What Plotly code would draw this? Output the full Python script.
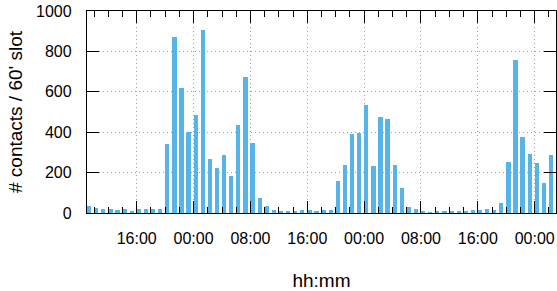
import pandas as pd
import plotly.graph_objects as go

# Hourly contact counts (60' slots), starting at 09:00 on day 1
first_slot = "2000-01-01 09:00"
counts = [
    35, 25, 20, 20, 15, 20, 10, 20, 20, 20, 20, 341,
    873, 619, 401, 485, 906, 267, 223, 287, 183, 436,
    673, 347, 74, 35, 15, 10, 10, 10, 15, 15, 10, 15, 15,
    158, 238, 391, 396, 535, 233, 475, 465, 238,
    124, 30, 20, 10, 3, 5, 5, 5, 5, 10, 15, 15, 20, 15,
    50, 252, 757, 376, 292, 248, 149, 287,
]
x_range = ["2000-01-01 09:00", "2000-01-04 03:00"]
y_ticks = [0, 200, 400, 600, 800, 1000]

HOUR_MS = 3600 * 1000
slots = pd.date_range(first_slot, periods=len(counts), freq="h")

fig = go.Figure(
    go.Bar(
        x=slots,
        y=counts,
        offset=0,
        width=0.6 * HOUR_MS,
        marker=dict(color="#56B4E9", line=dict(width=0)),
    )
)

font = dict(family="Liberation Sans, Arial, sans-serif", size=16, color="black")

fig.update_layout(
    width=557,
    height=291,
    margin=dict(l=87, r=1, t=11, b=78),
    paper_bgcolor="white",
    plot_bgcolor="white",
    showlegend=False,
    font=font,
    bargap=0,
)

grid_style = dict(showgrid=True, gridcolor="#a0a0a0", griddash="1px,3px", gridwidth=1)

fig.update_xaxes(
    type="date",
    range=x_range,
    tick0="2000-01-01 16:00",
    dtick=8 * HOUR_MS,
    tickformat="%H:%M",
    ticks="inside",
    ticklen=12,
    tickwidth=1,
    tickcolor="black",
    minor=dict(ticks="inside", ticklen=6, dtick=2 * HOUR_MS, tick0="2000-01-01 16:00",
               tickcolor="black", showgrid=False),
    showline=True,
    linecolor="black",
    linewidth=1.3,
    mirror="allticks",
    ticklabelstandoff=11,
    title=dict(text="hh:mm", standoff=29),
    automargin=False,
    zeroline=False,
    **grid_style,
)

fig.update_yaxes(
    range=[0, 1000],
    tickvals=y_ticks,
    ticks="inside",
    ticklen=12,
    tickwidth=1,
    tickcolor="black",
    showline=True,
    linecolor="black",
    linewidth=1.3,
    mirror="allticks",
    ticklabelstandoff=11,
    title=dict(text="# contacts / 60' slot", standoff=8),
    automargin=False,
    zeroline=False,
    **grid_style,
)

fig.write_html(
    "out.html",
    config={"displayModeBar": False},
    post_script="document.body.style.margin='0';",
)
